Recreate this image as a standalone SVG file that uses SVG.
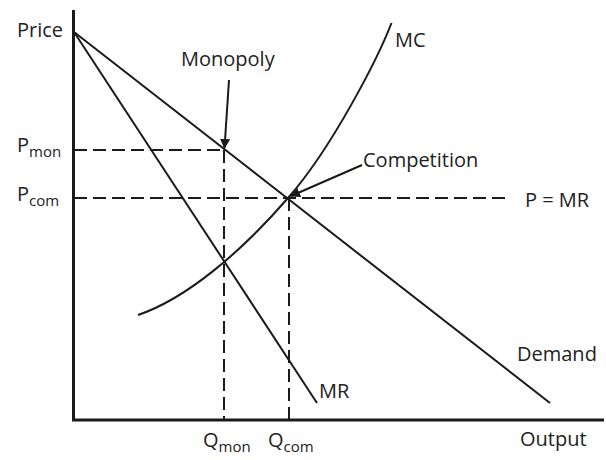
<svg xmlns="http://www.w3.org/2000/svg" width="606" height="460" viewBox="0 0 606 460">
<style>
.t{font-family:"Open Sans","Liberation Sans",sans-serif;font-size:20px;fill:#222}
.s{font-size:15px}
.ln{stroke:#1a1a1a;stroke-width:2;fill:none}
.ax{stroke:#1a1a1a;stroke-width:3;fill:none}
.d{stroke:#1a1a1a;stroke-width:2;fill:none;stroke-dasharray:13 6}
</style>
<defs>
<marker id="ah" viewBox="0 0 10 10" refX="9" refY="5" markerWidth="5" markerHeight="5" orient="auto" markerUnits="strokeWidth">
<path d="M0,0 L10,5 L0,10 z" fill="#1a1a1a"/>
</marker>
</defs>
<g id="axes">
<line class="ax" x1="73.5" y1="10" x2="73.5" y2="421"/>
<line class="ax" x1="72" y1="420" x2="604" y2="420"/>
<text class="t" x="17" y="37">Price</text>
<text class="t" x="520" y="446">Output</text>
</g>
<g id="demand">
<line class="ln" x1="74" y1="32" x2="550" y2="403"/>
<text class="t" x="517" y="361">Demand</text>
</g>
<g id="mr">
<line class="ln" x1="74" y1="32" x2="317" y2="403"/>
<text class="t" x="319" y="398">MR</text>
</g>
<g id="mc">
<path class="ln" d="M138,315 C188,298 243,250 288,198 C332,148 378,58 391.5,23"/>
<text class="t" x="395" y="47">MC</text>
</g>
<g id="guides">
<path class="d" d="M74,150 H224 M224,150 V420 M74,198 H511 M289,198 V420"/>
</g>
<g id="labels">
<text class="t" x="17" y="152">P<tspan class="s" dy="5">mon</tspan></text>
<text class="t" x="17" y="201">P<tspan class="s" dy="5">com</tspan></text>
<text class="t" x="203" y="447">Q<tspan class="s" dy="5">mon</tspan></text>
<text class="t" x="268" y="447">Q<tspan class="s" dy="5">com</tspan></text>
<text class="t" x="525" y="207">P = MR</text>
</g>
<g id="monopoly">
<text class="t" x="181" y="66">Monopoly</text>
</g>
<g id="competition">
<text class="t" x="363" y="167">Competition</text>
</g>
<g id="connectors">
<line class="ln" x1="229" y1="80" x2="224.5" y2="148" marker-end="url(#ah)"/>
<line class="ln" x1="362" y1="165" x2="291" y2="196" marker-end="url(#ah)"/>
</g>
</svg>
